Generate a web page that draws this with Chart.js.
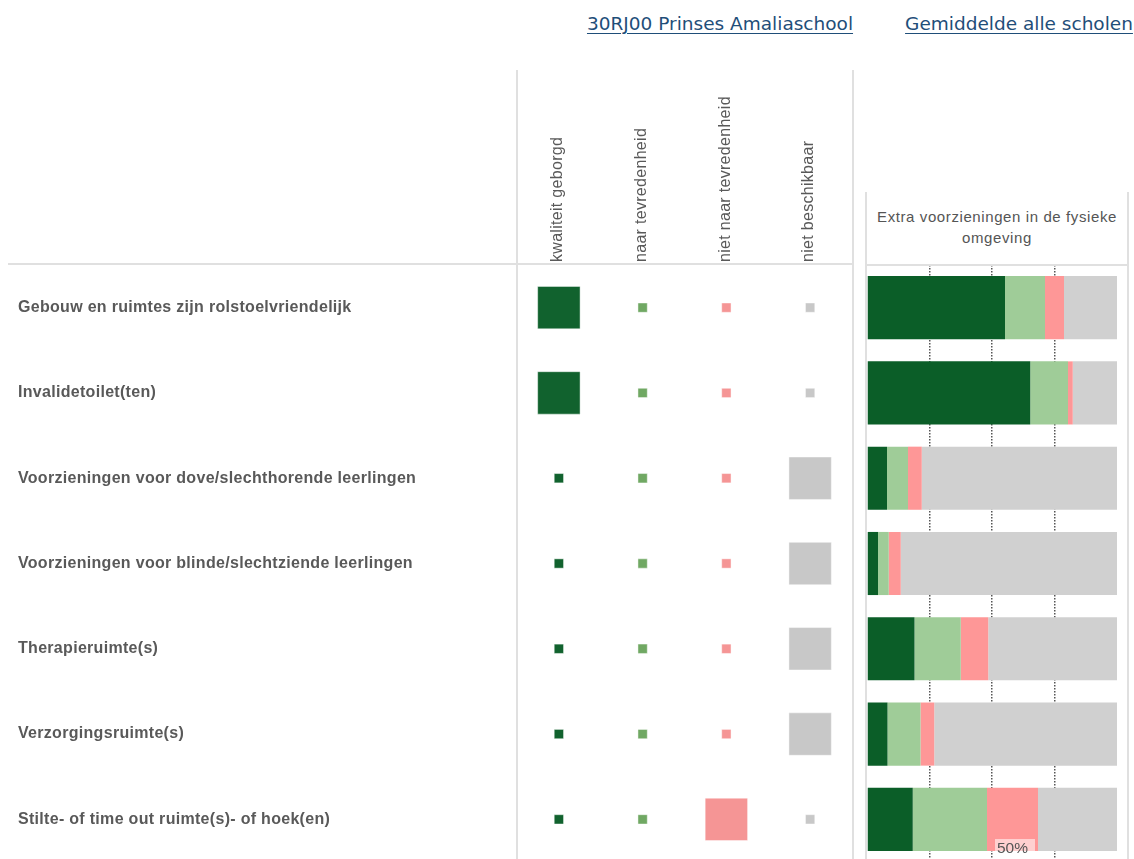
<!DOCTYPE html>
<html>
<head>
<meta charset="utf-8">
<script src="https://cdn.jsdelivr.net/npm/chart.js@4"></script>
<style>
  html, body { margin: 0; padding: 0; background: #fff; overflow: hidden; }
  body { width: 1134px; height: 859px; position: relative; }
  canvas { position: absolute; left: 0; top: 0; }
  .head {
    position: absolute; top: 13px; text-align: center;
    font-family: 'DejaVu Sans', sans-serif;
    font-size: 18.5px; color: #1f4e79; text-decoration: underline;
    text-underline-offset: 3px; white-space: nowrap;
  }
  .barhead {
    position: absolute; left: 866px; top: 206px; width: 262px; text-align: center;
    font-family: 'Liberation Sans', Arial, sans-serif; font-size: 15px; letter-spacing: 0.6px;
    line-height: 21px; color: #555;
  }
</style>
</head>
<body>
<div class="head" style="left:560px;width:320px;">30RJ00 Prinses Amaliaschool</div>
<div class="head" style="left:899px;width:240px;">Gemiddelde alle scholen</div>
<div class="barhead">Extra voorzieningen in de fysieke<br>omgeving</div>
<canvas id="schoolChart" width="1134" height="870"></canvas>
<canvas id="avgChart" width="1134" height="870"></canvas>
<script>
// Rows (voorzieningen)
const rows = [
  'Gebouw en ruimtes zijn rolstoelvriendelijk',
  'Invalidetoilet(ten)',
  'Voorzieningen voor dove/slechthorende leerlingen',
  'Voorzieningen voor blinde/slechtziende leerlingen',
  'Therapieruimte(s)',
  'Verzorgingsruimte(s)',
  'Stilte- of time out ruimte(s)- of hoek(en)'
];

// Answer categories
const columns = ['kwaliteit geborgd', 'naar tevredenheid', 'niet naar tevredenheid', 'niet beschikbaar'];

// School answers (1 = chosen)
const schoolKwaliteit = [1, 1, 0, 0, 0, 0, 0];
const schoolTevreden = [0, 0, 0, 0, 0, 0, 0];
const schoolNietTevreden = [0, 0, 0, 0, 0, 0, 1];
const schoolNietBeschikbaar = [0, 0, 1, 1, 1, 1, 0];

// Average all schools (%)
const avgKwaliteit = [55.2, 65.3, 8.0, 4.4, 19.0, 8.2, 18.3];
const avgTevreden = [16.0, 15.1, 8.4, 4.3, 18.5, 13.2, 29.7];
const avgNietTevreden = [7.6, 1.9, 5.5, 4.8, 11.0, 5.5, 20.4];
const avgNietBeschikbaar = [21.2, 17.7, 78.1, 86.5, 51.5, 73.1, 31.6];

const squareColors = ['#11622e', '#70a863', '#f59595', '#c8c8c8'];
const barColors = ['#0b5e28', '#9fcc98', '#fe9797', '#d0d0d0'];
const labelFont = "'Liberation Sans', Arial, sans-serif";

// Letter spacing: a bit on row labels, more on the rotated column labels
const spacingPlugin = {
  id: 'spacing',
  beforeDraw(chart) { chart.ctx.letterSpacing = '0.3px'; },
  afterDatasetsDraw(chart) { chart.ctx.letterSpacing = '1px'; },
  afterDraw(chart) { chart.ctx.letterSpacing = '0px'; }
};

// Table lines
const tableLines = {
  id: 'tableLines',
  afterDraw(chart) {
    const { ctx, chartArea } = chart;
    ctx.save();
    ctx.strokeStyle = '#e0e0e0';
    ctx.lineWidth = 2;
    ctx.beginPath();
    ctx.moveTo(chartArea.left, 70); ctx.lineTo(chartArea.left, 870);
    ctx.moveTo(chartArea.right + 1, 70); ctx.lineTo(chartArea.right + 1, 870);
    ctx.moveTo(8, chartArea.top - 1); ctx.lineTo(chartArea.right + 1, chartArea.top - 1);
    ctx.stroke();
    ctx.restore();
  }
};

const schoolSets = [schoolKwaliteit, schoolTevreden, schoolNietTevreden, schoolNietBeschikbaar];

new Chart(document.getElementById('schoolChart'), {
  type: 'scatter',
  data: {
    datasets: schoolSets.map((values, c) => ({
      label: columns[c],
      data: values.map((v, i) => ({ x: columns[c], y: rows[i], v: v })),
      pointStyle: 'rect',
      backgroundColor: squareColors[c],
      borderColor: 'rgba(255,255,255,0.45)',
      borderWidth: 1,
      pointRadius: ctx => ctx.raw && ctx.raw.v ? 30 : 6.6,
      pointHoverRadius: ctx => ctx.raw && ctx.raw.v ? 30 : 6.6
    }))
  },
  options: {
    responsive: false,
    animation: false,
    layout: { autoPadding: false, padding: { left: 18, right: 282, top: 0, bottom: 8 } },
    plugins: { legend: { display: false }, tooltip: { enabled: false } },
    scales: {
      x: {
        type: 'category',
        labels: columns,
        position: 'top',
        offset: true,
        z: 1,
        grid: { display: false, drawTicks: false },
        border: { display: false },
        ticks: {
          autoSkip: false,
          minRotation: 90,
          maxRotation: 90,
          padding: 3,
          labelOffset: 18,
          color: '#595959',
          font: { family: labelFont, size: 16 }
        },
        afterFit: scale => { scale.height = 265; scale.paddingLeft = 0; scale.paddingRight = 0; }
      },
      y: {
        type: 'category',
        labels: rows,
        offset: true,
        grid: { display: false, drawTicks: false },
        border: { display: false },
        ticks: {
          autoSkip: false,
          crossAlign: 'far',
          color: '#595959',
          font: { family: labelFont, size: 16, weight: 'bold' }
        },
        afterFit: scale => { scale.width = 499; scale.paddingTop = 0; scale.paddingBottom = 0; }
      }
    }
  },
  plugins: [spacingPlugin, tableLines]
});

// Bar chart frame + 50% label
const barFrame = {
  id: 'barFrame',
  afterDraw(chart) {
    const { ctx, chartArea, scales } = chart;
    ctx.save();
    ctx.strokeStyle = '#e0e0e0';
    ctx.lineWidth = 2;
    ctx.beginPath();
    ctx.moveTo(chartArea.left - 1, 192); ctx.lineTo(chartArea.left - 1, 870);
    ctx.moveTo(chartArea.right + 11, 192); ctx.lineTo(chartArea.right + 11, 870);
    ctx.moveTo(chartArea.left - 1, chartArea.top); ctx.lineTo(chartArea.right + 11, chartArea.top);
    ctx.stroke();

    const x50 = scales.x.getPixelForValue(50);
    ctx.fillStyle = 'rgba(255,255,255,0.55)';
    ctx.fillRect(x50 + 3, 839, 40, 18);
    ctx.fillStyle = '#555';
    ctx.font = '15.5px ' + labelFont;
    ctx.textBaseline = 'middle';
    ctx.fillText('50%', x50 + 5, 849);
    ctx.restore();
  }
};

const avgSets = [avgKwaliteit, avgTevreden, avgNietTevreden, avgNietBeschikbaar];

new Chart(document.getElementById('avgChart'), {
  type: 'bar',
  data: {
    labels: rows,
    datasets: avgSets.map((values, c) => ({
      label: columns[c],
      data: values,
      backgroundColor: barColors[c],
      borderWidth: 0,
      barPercentage: 0.74,
      categoryPercentage: 1
    }))
  },
  options: {
    indexAxis: 'y',
    responsive: false,
    animation: false,
    layout: { padding: { left: 867, right: 17, top: 265, bottom: 8 } },
    plugins: { legend: { display: false }, tooltip: { enabled: false } },
    scales: {
      x: {
        stacked: true,
        min: 0,
        max: 100,
        z: 1,
        grid: {
          drawTicks: false,
          color: ctx => (ctx.tick && (ctx.tick.value === 0 || ctx.tick.value === 100)) ? 'rgba(0,0,0,0)' : '#555',
          lineWidth: 1.5
        },
        border: { display: false, dash: [1.5, 1.5] },
        ticks: { display: false, stepSize: 25 }
      },
      y: {
        stacked: true,
        display: false
      }
    }
  },
  plugins: [barFrame]
});
</script>
</body>
</html>
